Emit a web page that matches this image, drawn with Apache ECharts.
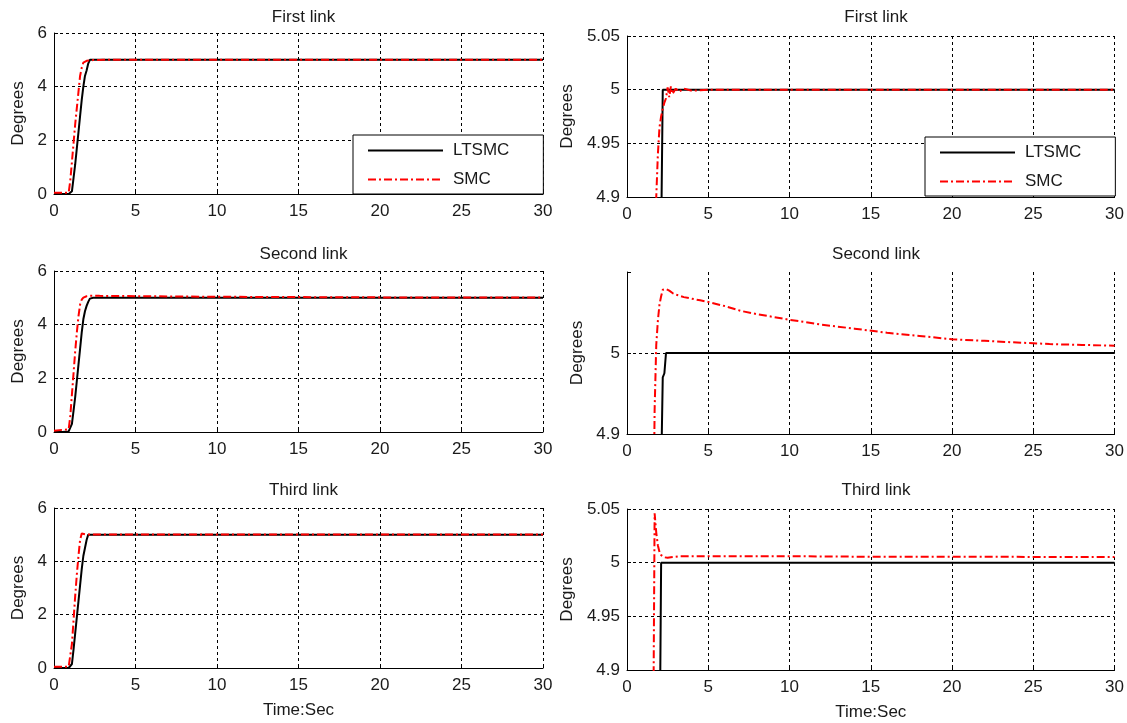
<!DOCTYPE html>
<html>
<head>
<meta charset="utf-8">
<script src="https://cdn.jsdelivr.net/npm/echarts@6/dist/echarts.min.js"></script>
<style>
  html, body { margin: 0; padding: 0; background: #fff; }
  #chart { width: 1127px; height: 723px; }
</style>
</head>
<body>
<div id="chart"></div>
<script>
// Sample times (s), shared by every trace
const time = [0, 0.5, 0.9, 1.0, 1.1, 1.2, 1.3, 1.4, 1.5, 1.6, 1.7, 1.8, 1.9, 2.0, 2.1, 2.2, 2.3, 2.4, 2.5, 2.6, 2.7, 2.8, 3.0, 3.2, 3.5, 4, 4.5, 5, 6, 7, 8, 10, 12, 14, 16, 18, 20, 22, 24, 26, 28, 30];

// Joint angle responses (degrees)
const link1LTSMC = [0, 0, 0, 0, 0.1, 0.6, 1.1, 1.7, 2.3, 2.9, 3.5, 4.0, 4.4, 4.6, 4.86, 5.0,
  5, 5, 5, 5, 5, 5, 5, 5, 5, 5, 5, 5, 5, 5, 5, 5, 5, 5, 5, 5, 5, 5, 5, 5, 5, 5];
const link1SMC = [0.05, 0.05, 0.05, 0.5, 1.2, 1.9, 2.6, 3.2, 3.8, 4.4, 4.7, 4.9, 4.94, 4.965, 4.975, 4.982, 4.988, 4.992,
  5.002, 4.993, 5.003, 4.996, 5.001, 4.998, 5.001, 4.999, 4.9995, 5.0,
  5, 5, 5, 5, 5, 5, 5, 5, 5, 5, 5, 5, 5, 5];

const link2LTSMC = [0, 0, 0.02, 0.05, 0.3, 0.8, 1.3, 1.9, 2.5, 3.1, 3.7, 4.2, 4.5, 4.7, 4.85, 4.97, 4.975, 5.0,
  5, 5, 5, 5, 5, 5, 5, 5, 5, 5, 5, 5, 5, 5, 5, 5, 5, 5, 5, 5, 5, 5, 5, 5];
const link2SMC = [0.05, 0.08, 0.1, 0.6, 1.4, 2.2, 3.0, 3.7, 4.3, 4.75, 4.93, 5.01, 5.04, 5.06, 5.07, 5.078, 5.08, 5.079,
  5.077, 5.077, 5.076, 5.074, 5.072, 5.071, 5.069, 5.067, 5.065, 5.063, 5.058, 5.052, 5.048, 5.041,
  5.035, 5.03, 5.025, 5.021, 5.017, 5.015, 5.013, 5.011, 5.01, 5.009];

const link3LTSMC = [0, 0, 0, 0, 0.15, 0.7, 1.3, 1.9, 2.5, 3.1, 3.7, 4.2, 4.5, 4.8, 5.0,
  5, 5, 5, 5, 5, 5, 5, 5, 5, 5, 5, 5, 5, 5, 5, 5, 5, 5, 5, 5, 5, 5, 5, 5, 5, 5, 5];
const link3SMC = [0.05, 0.05, 0.05, 0.1, 0.9, 1.8, 2.7, 3.5, 4.2, 4.8, 5.046, 5.028, 5.016, 5.01, 5.007, 5.006, 5.005,
  5.0045, 5.0045, 5.0045, 5.005, 5.005, 5.0055, 5.006, 5.006, 5.006, 5.006, 5.006, 5.006, 5.006, 5.006, 5.006,
  5.0058, 5.0056, 5.0055, 5.0055, 5.0055, 5.0054, 5.0054, 5.0053, 5.0053, 5.0053];

const panelTitles = ['First link', 'Second link', 'Third link'];
const seriesNames = ['LTSMC', 'SMC'];
const xTicks = { min: 0, max: 30, interval: 5 };
const leftYTicks = { min: 0, max: 6, interval: 2 };
const zoomYTicks = [
  { min: 4.9, max: 5.05, interval: 0.05 },
  { min: 4.9, max: 5.1, interval: 0.1 },
  { min: 4.9, max: 5.05, interval: 0.05 }
];

const links = [
  [link1LTSMC, link1SMC],
  [link2LTSMC, link2SMC],
  [link3LTSMC, link3SMC]
];

const FONT = 'Liberation Sans, Arial, sans-serif';
const TXT = '#1a1a1a';
const dashDot = [8, 3, 2, 3];

// panel frames: [left column, right column] per row
const frames = [
  [{ top: 33, height: 161 }, { top: 36, height: 161 }],
  [{ top: 271, height: 161 }, { top: 272, height: 162 }],
  [{ top: 508, height: 160 }, { top: 509, height: 161 }]
];
const colLeft = [54, 627];
const colWidth = [489, 488];
const yNameGap = [[27, 51], [27, 41], [27, 51]];

const pairs = v => time.map((t, i) => [t, v[i]]);
const fmt = v => String(+(+v).toFixed(2));

const grids = [], xAxes = [], yAxes = [], series = [], titles = [];

for (let r = 0; r < 3; r++) {
  for (let c = 0; c < 2; c++) {
    const gi = grids.length;
    grids.push({
      left: colLeft[c],
      top: frames[r][c].top,
      width: colWidth[c],
      height: frames[r][c].height,
      containLabel: false
    });
    xAxes.push({
      gridIndex: gi, type: 'value',
      min: xTicks.min, max: xTicks.max, interval: xTicks.interval,
      name: r === 2 ? 'Time:Sec' : '',
      nameLocation: 'middle', nameGap: 34,
      nameTextStyle: { fontFamily: FONT, fontSize: 17, color: TXT },
      axisLine: { show: true, lineStyle: { color: '#000', width: 1 } },
      axisTick: { show: true, inside: true, length: 4, lineStyle: { color: '#000' } },
      axisLabel: { fontFamily: FONT, fontSize: 17, color: TXT, margin: 9 },
      splitLine: { show: true, lineStyle: { color: '#000', type: [3, 3], width: 1 } }
    });
    const yt = c === 0 ? leftYTicks : zoomYTicks[r];
    const middleZoom = (c === 1 && r === 1);
    yAxes.push({
      gridIndex: gi, type: 'value',
      min: yt.min, max: yt.max, interval: yt.interval,
      name: 'Degrees', nameLocation: 'middle',
      nameGap: yNameGap[r][c],
      nameTextStyle: { fontFamily: FONT, fontSize: 17, color: TXT },
      axisLine: { show: true, lineStyle: { color: '#000', width: 1 } },
      axisTick: { show: true, inside: true, length: 4, lineStyle: { color: '#000' } },
      axisLabel: {
        fontFamily: FONT, fontSize: 17, color: TXT, margin: 7,
        formatter: v => (middleZoom && v > 5.05) ? '' : fmt(v)
      },
      splitLine: {
        show: true,
        lineStyle: {
          color: middleZoom ? ['#000', '#000', 'rgba(0,0,0,0)'] : '#000',
          type: [3, 3], width: 1
        }
      }
    });
    const [ltsmc, smc] = links[r];
    series.push({
      name: seriesNames[0], type: 'line', xAxisIndex: gi, yAxisIndex: gi,
      data: pairs(ltsmc), symbol: 'none', clip: true, z: 3,
      lineStyle: { color: '#000', width: 2 }, itemStyle: { color: '#000' }
    });
    series.push({
      name: seriesNames[1], type: 'line', xAxisIndex: gi, yAxisIndex: gi,
      data: pairs(smc), symbol: 'none', clip: true, z: 4,
      lineStyle: { color: '#ff0000', width: 2, type: dashDot }, itemStyle: { color: '#ff0000' }
    });
    titles.push({
      text: panelTitles[r],
      left: colLeft[c] + colWidth[c] / 2,
      top: [4, 241, 477][r],
      textAlign: 'center',
      textStyle: { fontFamily: FONT, fontSize: 17, fontWeight: 'normal', color: TXT }
    });
  }
}

const legendBase = (left, top) => ({
  show: true,
  orient: 'vertical', left: left, top: top,
  padding: [7, 34, 6, 14], itemGap: 12, itemWidth: 75, itemHeight: 18,
  backgroundColor: '#fff', borderColor: '#000', borderWidth: 1,
  itemStyle: { opacity: 0 },
  textStyle: { fontFamily: FONT, fontSize: 17, color: TXT, padding: [0, 0, 0, 5] },
  data: seriesNames
});

const chart = echarts.init(document.getElementById('chart'), null, { renderer: 'canvas' });
chart.setOption({
  animation: false,
  backgroundColor: '#fff',
  title: titles,
  grid: grids,
  xAxis: xAxes,
  yAxis: yAxes,
  legend: [legendBase(353, 135), legendBase(925, 137)],
  series: series
});
</script>
</body>
</html>
